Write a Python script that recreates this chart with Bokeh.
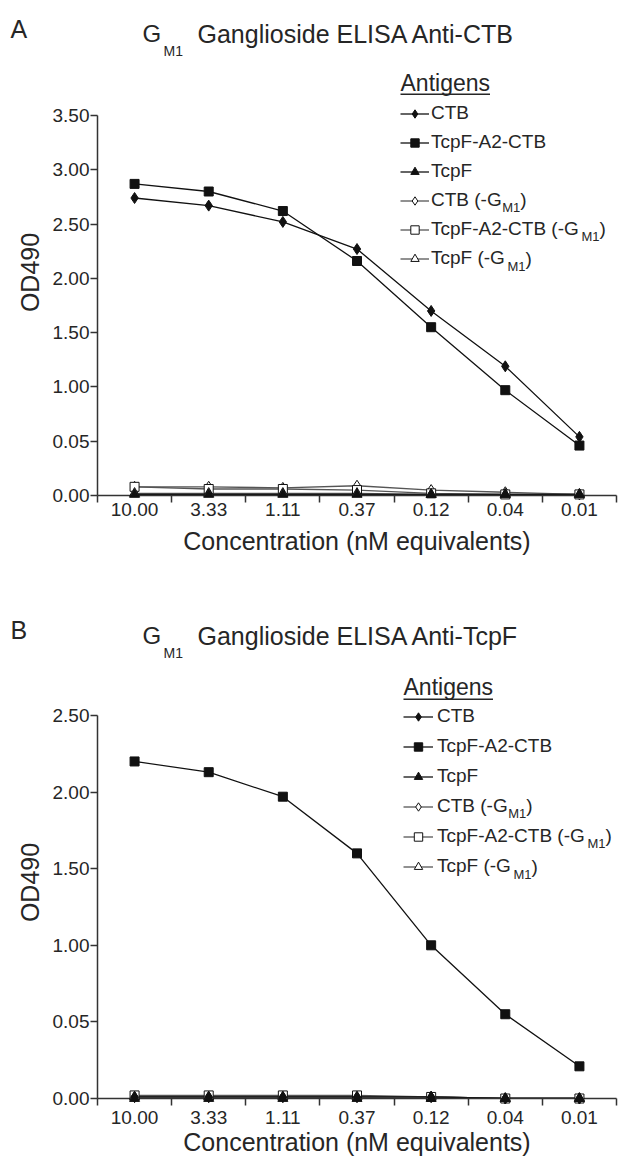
import math
from bokeh.plotting import figure
from bokeh.layouts import column, row
from bokeh.models import Range1d, FixedTicker, Legend, LegendItem, Label, BoxAnnotation
from bokeh.embed import file_html
from bokeh.resources import INLINE

FONT = "Liberation Sans"
TXT = "#262626"
AX = "#333333"

# ---------------- data ----------------
concentrations = ["10.00", "3.33", "1.11", "0.37", "0.12", "0.04", "0.01"]
series_labels = ["CTB", "TcpF-A2-CTB", "TcpF", "CTB (-G", "TcpF-A2-CTB (-G", "TcpF (-G"]

a_ctb = [2.74, 2.67, 2.52, 2.27, 1.70, 1.19, 0.54]
a_fusion = [2.87, 2.80, 2.62, 2.16, 1.55, 0.97, 0.46]
a_tcpf = [0.01, 0.01, 0.01, 0.01, 0.01, 0.01, 0.01]
a_ctb_neg = [0.08, 0.08, 0.07, 0.09, 0.05, 0.03, 0.01]
a_fusion_neg = [0.08, 0.06, 0.06, 0.05, 0.02, 0.01, 0.01]
a_tcpf_neg = [0.02, 0.02, 0.02, 0.02, 0.01, 0.01, 0.01]

b_ctb = [0.01, 0.01, 0.01, 0.01, 0.01, 0.00, 0.00]
b_fusion = [2.20, 2.13, 1.97, 1.60, 1.00, 0.55, 0.21]
b_tcpf = [0.00, 0.00, 0.00, 0.00, 0.00, 0.00, 0.00]
b_ctb_neg = [0.01, 0.01, 0.01, 0.01, 0.01, 0.00, 0.00]
b_fusion_neg = [0.02, 0.02, 0.02, 0.02, 0.01, 0.00, 0.00]
b_tcpf_neg = [0.01, 0.01, 0.01, 0.01, 0.01, 0.00, 0.00]

a_yticks = [0.0, 0.5, 1.0, 1.5, 2.0, 2.5, 3.0, 3.5]
a_ytick_labels = ["0.00", "0.05", "1.00", "1.50", "2.00", "2.50", "3.00", "3.50"]
b_yticks = [0.0, 0.5, 1.0, 1.5, 2.0, 2.5]
b_ytick_labels = ["0.00", "0.05", "1.00", "1.50", "2.00", "2.50"]

markers = ["diamond", "square", "triangle", "diamond", "square", "triangle"]
msizes = [11, 9, 10, 11, 9, 10]
filled = [True, True, True, False, False, False]

ARIAL_W = {"C": .722, "T": .611, "B": .667, " ": .278, "(": .333, "-": .333, "G": .778,
           "c": .5, "p": .556, "F": .611, "A": .667, "2": .556, "M": .833, "1": .556}

PAGE_W = 638
STRIP_W = 45          # left strip holding panel letter and y title
FRAME_L, FRAME_R = 97, 616
ROW_H = 22.5


def tw(s, size):
    return sum(ARIAL_W.get(ch, .556) for ch in s) * size


def add_label(p, text, x, y, size, align="left", angle=0.0):
    p.add_layout(Label(x=x, y=y, x_units="canvas", y_units="canvas", text=text,
                       text_font=FONT, text_font_size=f"{size}px", text_color=TXT,
                       text_align=align, text_baseline="middle", angle=angle))


def make_strip(letter, height, page_top, letter_y, od_y):
    s = figure(width=STRIP_W, height=height, output_backend="svg", toolbar_location=None,
               x_axis_type=None, y_axis_type=None, min_border=0,
               x_range=Range1d(0, 1), y_range=Range1d(0, 1))
    s.outline_line_color = None
    s.xgrid.visible = False
    s.ygrid.visible = False
    add_label(s, letter, 10, letter_y - page_top, 25)
    add_label(s, "OD490", 29, od_y - page_top, 25, align="center", angle=math.pi / 2)
    return s


def make_panel(title_tail, series, yticks, ylabels, height, page_top,
               frame_bottom, top_tick_page, spec):
    W = PAGE_W - STRIP_W
    fb = frame_bottom - page_top
    yt = top_tick_page - page_top
    ymax = yticks[-1] * fb / (fb - yt)
    p = figure(width=W, height=height, output_backend="svg", toolbar_location=None,
               x_range=Range1d(0.5, len(concentrations) + 0.5), y_range=Range1d(0, ymax),
               min_border_left=FRAME_L - STRIP_W, min_border_right=PAGE_W - FRAME_R,
               min_border_top=0, min_border_bottom=height - fb)
    p.outline_line_color = None
    p.xgrid.visible = False
    p.ygrid.visible = False
    p.background_fill_color = "white"

    xs = list(range(1, len(concentrations) + 1))
    xa = p.xaxis[0]
    xa.ticker = FixedTicker(ticks=xs, minor_ticks=[v - 0.5 for v in xs] + [xs[-1] + 0.5])
    xa.major_label_overrides = {v: c for v, c in zip(xs, concentrations)}
    xa.major_tick_out = 0
    xa.major_tick_in = 0
    xa.major_tick_line_color = None
    xa.minor_tick_out = 7
    xa.minor_tick_in = 0
    xa.minor_tick_line_color = AX
    xa.minor_tick_line_width = 1.5
    xa.axis_line_color = AX
    xa.axis_line_width = 1.5
    xa.major_label_text_font = FONT
    xa.major_label_text_font_size = "19px"
    xa.major_label_text_color = TXT
    xa.major_label_standoff = spec["xstand"]
    xa.axis_label = "Concentration (nM equivalents)"
    xa.axis_label_text_font = FONT
    xa.axis_label_text_font_size = "25px"
    xa.axis_label_text_font_style = "normal"
    xa.axis_label_text_color = TXT
    xa.axis_label_standoff = spec["xtstand"]

    ya = p.yaxis[0]
    ya.bounds = (yticks[0], yticks[-1])
    ya.ticker = FixedTicker(ticks=yticks, minor_ticks=[])
    ya.major_label_overrides = {v: s for v, s in zip(yticks, ylabels)}
    ya.major_tick_out = 7
    ya.major_tick_in = 0
    ya.major_tick_line_color = AX
    ya.major_tick_line_width = 1.5
    ya.minor_tick_line_color = None
    ya.axis_line_color = AX
    ya.axis_line_width = 1.5
    ya.major_label_text_font = FONT
    ya.major_label_text_font_size = "19px"
    ya.major_label_text_color = TXT
    ya.major_label_standoff = 1

    order = [3, 4, 5, 0, 1, 2]
    rends = {}
    for i in order:
        vals = series[i]
        col = "#111111" if filled[i] else "#555555"
        ln = p.line(xs, vals, line_color=col, line_width=1.3)
        sc = p.scatter(xs, vals, marker=markers[i], size=msizes[i],
                       fill_color="#111111" if filled[i] else "white",
                       line_color="#111111", line_width=1)
        sc.level = "overlay"
        rends[i] = [ln, sc]
    items = [LegendItem(label=series_labels[i], renderers=rends[i]) for i in range(6)]

    pitch = ROW_H + spec["spacing"]
    leg_h = 6 * ROW_H + 5 * spec["spacing"]
    leg_bottom = spec["row0"] - ROW_H / 2 + leg_h
    leg = Legend(items=items, location=(spec["leg_x"], round(frame_bottom - leg_bottom)),
                 orientation="vertical", padding=0, margin=0, spacing=spec["spacing"],
                 glyph_width=spec["gw"], glyph_height=21, label_height=21,
                 label_standoff=spec["standoff"],
                 label_text_font=FONT, label_text_font_size="19px", label_text_color=TXT,
                 border_line_color=None, background_fill_alpha=0)
    p.add_layout(leg, "center")

    # subscripts of the legend labels
    lab_x = FRAME_L + spec["leg_x"] + spec["gw"] + spec["standoff"] - STRIP_W
    for k in range(3, 6):
        row_y = spec["row0"] + k * pitch - page_top
        x0 = lab_x + tw(series_labels[k], 19)
        add_label(p, "M1", x0, row_y + 8, 13)
        add_label(p, ")", x0 + tw("M1", 13), row_y, 19)

    # legend header, underlined
    ax_ = FRAME_L + spec["leg_x"] - STRIP_W
    add_label(p, "Antigens", ax_, spec["ant_y"] - page_top, 23)
    uy = spec["ant_line"] - page_top
    p.add_layout(BoxAnnotation(left=ax_, right=ax_ + 3.891 * 23, top=uy, bottom=uy + 1.4,
                               left_units="canvas", right_units="canvas",
                               top_units="canvas", bottom_units="canvas",
                               fill_color=TXT, fill_alpha=1, line_color=None))

    # title with subscript
    ty = spec["title_y"] - page_top
    add_label(p, "G", 142 - STRIP_W, ty, 24)
    add_label(p, "M1", 163 - STRIP_W, ty + 17, 14)
    add_label(p, title_tail, 197 - STRIP_W, ty, 25)
    return p


A_H = 575
B_H = 1168 - A_H

pa = make_panel("Ganglioside ELISA Anti-CTB",
                [a_ctb, a_fusion, a_tcpf, a_ctb_neg, a_fusion_neg, a_tcpf_neg],
                a_yticks, a_ytick_labels, A_H, 0, 495, 115,
                dict(xstand=0, xtstand=8, leg_x=303, spacing=7, gw=29, standoff=2,
                     row0=110, ant_y=82, ant_line=93, title_y=33))
sa = make_strip("A", A_H, 0, 28, 272)

pb = make_panel("Ganglioside ELISA Anti-TcpF",
                [b_ctb, b_fusion, b_tcpf, b_ctb_neg, b_fusion_neg, b_tcpf_neg],
                b_yticks, b_ytick_labels, B_H, A_H, 1098, 715,
                dict(xstand=5, xtstand=1, leg_x=306, spacing=8, gw=30, standoff=4,
                     row0=713, ant_y=686, ant_line=698, title_y=635))
sb = make_strip("B", B_H, A_H, 629, 882)

layout = column(row(sa, pa, spacing=0), row(sb, pb, spacing=0), spacing=0)
open("out.html", "w").write(file_html(layout, INLINE))
